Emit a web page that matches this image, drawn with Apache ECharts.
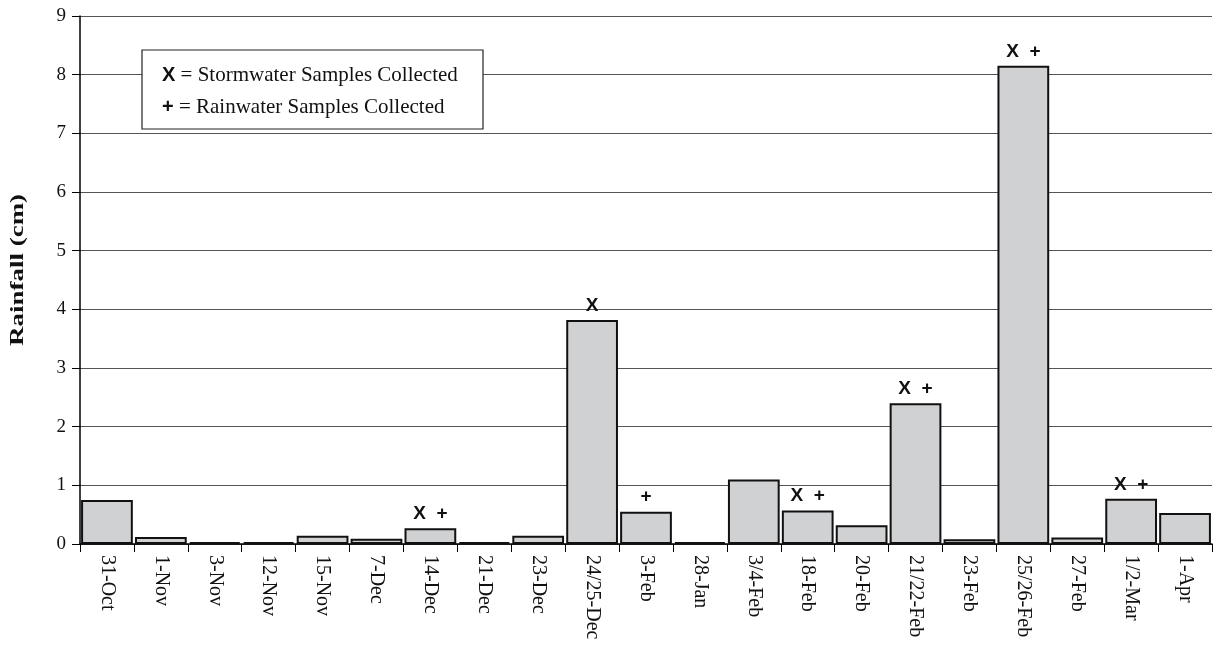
<!DOCTYPE html>
<html><head><meta charset="utf-8">
<script src="https://cdn.jsdelivr.net/npm/echarts@6/dist/echarts.min.js"></script>
<style>html,body{margin:0;padding:0;background:#fff}#c{width:1214px;height:649px}</style>
</head><body><div id="c"></div>
<script>
const categories = ['31-Oct','1-Nov','3-Nov','12-Nov','15-Nov','7-Dec','14-Dec','21-Dec','23-Dec','24/25-Dec','3-Feb','28-Jan','3/4-Feb','18-Feb','20-Feb','21/22-Feb','23-Feb','25/26-Feb','27-Feb','1/2-Mar','1-Apr'];
const rainfall = [0.75,0.12,0.03,0.03,0.14,0.09,0.27,0.03,0.14,3.82,0.55,0.03,1.1,0.57,0.32,2.4,0.08,8.15,0.11,0.77,0.53];
const markers = ['','','','','','','X  +','','','X','+','','','X  +','','X  +','','X  +','','X  +',''];
const yTicks = [0,1,2,3,4,5,6,7,8,9];
const yTitle = 'Rainfall (cm)';
const legendLines = ['{b|X} = Stormwater Samples Collected','{b|+} = Rainwater Samples Collected'];

const chart = echarts.init(document.getElementById('c'));
chart.setOption({
  animation:false,
  grid:{left:80,right:2,top:16,bottom:105},
  xAxis:{type:'category',data:categories,
    axisLine:{lineStyle:{color:'#000',width:1.5}},
    axisTick:{show:true,length:8,lineStyle:{color:'#000'}},
    axisLabel:{rotate:-90,color:'#111',fontFamily:'Liberation Serif',fontSize:20,margin:11,interval:0}},
  yAxis:{type:'value',min:0,max:9,interval:1,
    axisLine:{show:true,lineStyle:{color:'#000',width:1.5}},
    axisTick:{show:true,inside:false,length:8,lineStyle:{color:'#000'}},
    axisLabel:{color:'#111',fontFamily:'Liberation Serif',fontSize:19,margin:14,
      formatter:v=>yTicks.includes(v)?String(v):''},
    splitLine:{lineStyle:{color:'#555',width:1}}},
  series:[{type:'bar',data:rainfall,barCategoryGap:'4%',
    itemStyle:{color:'#d0d1d3',borderColor:'#111',borderWidth:2},
    label:{show:true,position:'top',distance:5,color:'#111',fontFamily:'Liberation Sans',fontWeight:'bold',fontSize:19,
      formatter:p=>markers[p.dataIndex]}}],
  graphic:[
    {type:'text',x:18,y:270,rotation:Math.PI/2,scaleX:1.5,scaleY:1,z:50,
      style:{text:yTitle,fontFamily:'Liberation Serif',fontWeight:'bold',fontSize:18,fill:'#111',align:'center',verticalAlign:'middle'}},
    {type:'rect',shape:{x:142,y:50,width:341,height:79},style:{fill:'#fff',stroke:'#222',lineWidth:1.2},z:100},
    {type:'text',x:162,y:75,z:101,style:{text:legendLines[0],fill:'#111',verticalAlign:'middle',
      rich:{b:{fontFamily:'Liberation Sans',fontWeight:'bold',fontSize:20,fill:'#111'}},
      fontFamily:'Liberation Serif',fontSize:21}},
    {type:'text',x:162,y:107,z:101,style:{text:legendLines[1],fill:'#111',verticalAlign:'middle',
      rich:{b:{fontFamily:'Liberation Sans',fontWeight:'bold',fontSize:20,fill:'#111'}},
      fontFamily:'Liberation Serif',fontSize:21}}
  ]
});
</script></body></html>
